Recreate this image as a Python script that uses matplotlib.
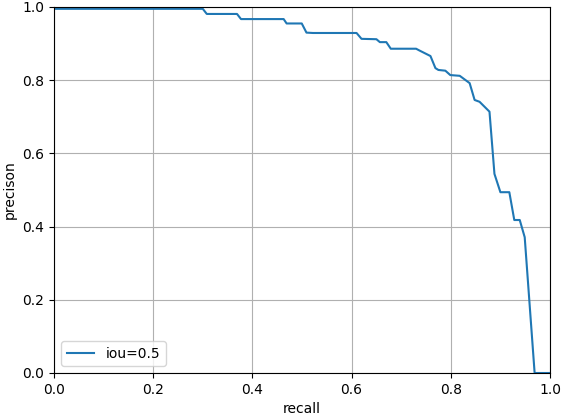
import matplotlib
matplotlib.use("Agg")
import matplotlib.pyplot as plt

# precision-recall curve
recall = [0.0, 0.300, 0.308, 0.369, 0.377, 0.463, 0.469, 0.4995, 0.509, 0.522,
          0.610, 0.620, 0.650, 0.657, 0.670, 0.679, 0.730, 0.737, 0.759, 0.769,
          0.775, 0.789, 0.799, 0.818, 0.838, 0.848, 0.858, 0.878, 0.888, 0.900,
          0.918, 0.928, 0.939, 0.949, 0.969, 1.0]
precision = [0.995, 0.995, 0.981, 0.981, 0.967, 0.967, 0.955, 0.955, 0.930, 0.929,
             0.929, 0.913, 0.912, 0.904, 0.904, 0.886, 0.886, 0.881, 0.866, 0.833,
             0.828, 0.826, 0.814, 0.812, 0.792, 0.746, 0.741, 0.714, 0.544, 0.494,
             0.494, 0.418, 0.418, 0.371, 0.0, 0.0]

fig = plt.figure(figsize=(5.61, 4.16), dpi=100)
ax = fig.add_axes([54 / 561, 43 / 416, 496 / 561, 366 / 416])

ax.plot(recall, precision, label="iou=0.5")
ax.set_xlim(0, 1)
ax.set_ylim(0, 1)
ax.set_xlabel("recall")
ax.set_ylabel("precison")
ax.grid(True)
ax.legend(loc="lower left")

fig.savefig("out.png", dpi=100)
